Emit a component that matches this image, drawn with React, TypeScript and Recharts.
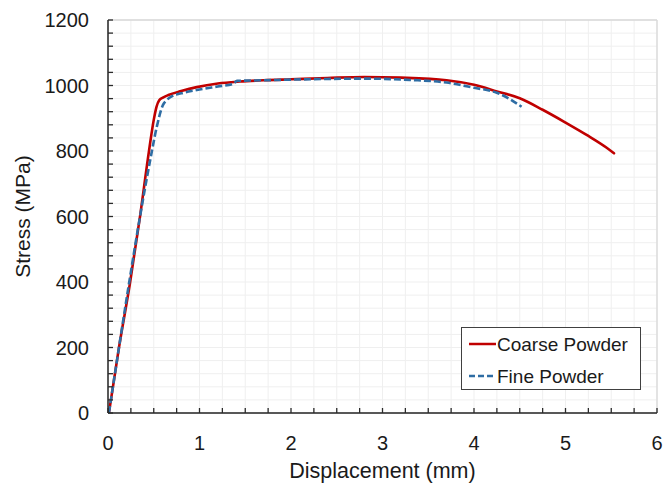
import React from 'react';
import { LineChart, Line, XAxis, YAxis, CartesianGrid, Legend } from 'recharts';

const coarseX = [0.01, 0.12, 0.24, 0.35, 0.45, 0.5, 0.53, 0.56, 0.6, 0.66, 0.8, 0.97, 1.2, 1.44, 1.7, 2.0, 2.4, 2.8, 3.2, 3.7, 4.0, 4.25, 4.5, 4.75, 5.0, 5.25, 5.45, 5.53];
const coarseY = [0, 200, 396, 600, 804, 895, 935, 955, 963, 971, 983, 995, 1006, 1012, 1016, 1019, 1023, 1026, 1024, 1016, 1002, 982, 961, 926, 887, 846, 810, 793];

const fineX = [0.01, 0.12, 0.23, 0.35, 0.48, 0.53, 0.6, 0.64, 0.68, 0.8, 0.97, 1.2, 1.37, 1.41, 1.7, 2.0, 2.4, 2.8, 3.3, 3.7, 4.0, 4.25, 4.4, 4.52];
const fineY = [0, 200, 396, 600, 800, 870, 940, 955, 964, 976, 986, 997, 1005, 1014, 1016, 1018, 1020, 1021, 1017, 1009, 993, 978, 957, 935];

const xMajorTicks = [0, 1, 2, 3, 4, 5, 6];
const xMinorTicks = [0, 0.25, 0.5, 0.75, 1, 1.25, 1.5, 1.75, 2, 2.25, 2.5, 2.75, 3, 3.25, 3.5, 3.75, 4, 4.25, 4.5, 4.75, 5, 5.25, 5.5, 5.75, 6];
const yMajorTicks = [0, 200, 400, 600, 800, 1000, 1200];
const yMinorTicks = [0, 40, 80, 120, 160, 200, 240, 280, 320, 360, 400, 440, 480, 520, 560, 600, 640, 680, 720, 760, 800, 840, 880, 920, 960, 1000, 1040, 1080, 1120, 1160, 1200];

const seriesNames = ['Coarse Powder', 'Fine Powder'];
const xTitle = 'Displacement (mm)';
const yTitle = 'Stress (MPa)';

const coarseData = coarseX.map((x, i) => ({ x, y: coarseY[i] }));
const fineData = fineX.map((x, i) => ({ x, y: fineY[i] }));

const FONT = '"Liberation Sans", Arial, sans-serif';
const TEXT = '#1a1a1a';
const AXIS = '#2b2b2b';
const RED = '#C00000';
const BLUE = '#2E6DA4';

const XTick = (props: any) => {
  const { x, y, payload } = props;
  const v = payload.value;
  const major = xMajorTicks.includes(v);
  return (
    <g>
      <line x1={x} y1={y} x2={x} y2={y - 5} stroke={AXIS} strokeWidth={1.3} />
      {major && (
        <text x={x} y={y + 30} textAnchor="middle" dominantBaseline="central" fontFamily={FONT} fontSize={20} fill={TEXT}>
          {v}
        </text>
      )}
    </g>
  );
};

const YTick = (props: any) => {
  const { x, y, payload } = props;
  const v = payload.value;
  const major = yMajorTicks.includes(v);
  return (
    <g>
      <line x1={x} y1={y} x2={x + 5} y2={y} stroke={AXIS} strokeWidth={1.3} />
      {major && (
        <text x={x - 19} y={y} textAnchor="end" dominantBaseline="central" fontFamily={FONT} fontSize={20} fill={TEXT}>
          {v}
        </text>
      )}
    </g>
  );
};

const LegendBox = () => (
  <div
    style={{
      position: 'relative',
      width: 180,
      height: 63,
      boxSizing: 'border-box',
      border: '1.3px solid #404040',
      background: '#fff',
      fontFamily: FONT,
      fontSize: 19,
      color: TEXT,
    }}
  >
    <svg width={30} height={63} style={{ position: 'absolute', left: 5, top: 0 }}>
      <line x1={2} y1={16} x2={29} y2={16} stroke={RED} strokeWidth={2.5} />
      <line x1={2} y1={48} x2={29} y2={48} stroke={BLUE} strokeWidth={2.5} strokeDasharray="6 3" />
    </svg>
    <div style={{ position: 'absolute', left: 35, top: 16, transform: 'translateY(-50%)', whiteSpace: 'nowrap', lineHeight: 1 }}>
      {seriesNames[0]}
    </div>
    <div style={{ position: 'absolute', left: 35, top: 48, transform: 'translateY(-50%)', whiteSpace: 'nowrap', lineHeight: 1 }}>
      {seriesNames[1]}
    </div>
  </div>
);

export default function App() {
  return (
    <div style={{ position: 'absolute', left: 0, top: 0, background: '#fff' }}>
      <LineChart width={664} height={485} margin={{ top: 20, right: 7, bottom: 0, left: 0 }}>
        <CartesianGrid stroke="#efefef" strokeWidth={1} />
        <CartesianGrid stroke="#d9d9d9" strokeWidth={1.3} xAxisId="top" yAxisId="right" />
        <XAxis
          dataKey="x"
          type="number"
          domain={[0, 6]}
          ticks={xMinorTicks}
          interval={0}
          height={72}
          tickSize={0}
          tickMargin={0}
          tickLine={false}
          tick={<XTick />}
          axisLine={{ stroke: AXIS, strokeWidth: 1.5 }}
          allowDataOverflow
          label={{
            content: ({ viewBox }: any) => (
              <text
                x={viewBox.x + viewBox.width / 2}
                y={viewBox.y + 58}
                textAnchor="middle"
                dominantBaseline="central"
                fontFamily={FONT}
                fontSize={21.5}
                fill={TEXT}
              >
                {xTitle}
              </text>
            ),
          }}
        />
        <XAxis
          xAxisId="top"
          orientation="top"
          type="number"
          domain={[0, 6]}
          ticks={xMajorTicks}
          interval={0}
          height={0}
          tick={false}
          tickLine={false}
          axisLine={{ stroke: AXIS, strokeWidth: 1.5 }}
        />
        <YAxis
          type="number"
          domain={[0, 1200]}
          ticks={yMinorTicks}
          interval={0}
          width={108}
          tickSize={0}
          tickMargin={0}
          tickLine={false}
          tick={<YTick />}
          axisLine={{ stroke: AXIS, strokeWidth: 1.5 }}
          allowDataOverflow
          label={{
            content: ({ viewBox }: any) => {
              const cx = viewBox.x + 22.5;
              const cy = viewBox.y + viewBox.height / 2;
              return (
                <text
                  x={cx}
                  y={cy}
                  transform={`rotate(-90 ${cx} ${cy})`}
                  textAnchor="middle"
                  dominantBaseline="central"
                  fontFamily={FONT}
                  fontSize={21}
                  fill={TEXT}
                >
                  {yTitle}
                </text>
              );
            },
          }}
        />
        <YAxis
          yAxisId="right"
          orientation="right"
          type="number"
          domain={[0, 1200]}
          ticks={yMajorTicks}
          interval={0}
          width={0}
          tick={false}
          tickLine={false}
          axisLine={{ stroke: AXIS, strokeWidth: 1.5 }}
        />
        <Line
          data={coarseData}
          dataKey="y"
          name={seriesNames[0]}
          type="monotone"
          stroke={RED}
          strokeWidth={2.6}
          strokeLinecap="round"
          dot={false}
          isAnimationActive={false}
        />
        <Line
          data={fineData}
          dataKey="y"
          name={seriesNames[1]}
          type="monotone"
          stroke={BLUE}
          strokeWidth={2.6}
          strokeDasharray="7 3"
          dot={false}
          isAnimationActive={false}
        />
        <Legend
          layout="vertical"
          align="center"
          verticalAlign="middle"
          wrapperStyle={{ left: 461, top: 327, width: 180, height: 63 }}
          content={() => <LegendBox />}
        />
      </LineChart>
    </div>
  );
}
